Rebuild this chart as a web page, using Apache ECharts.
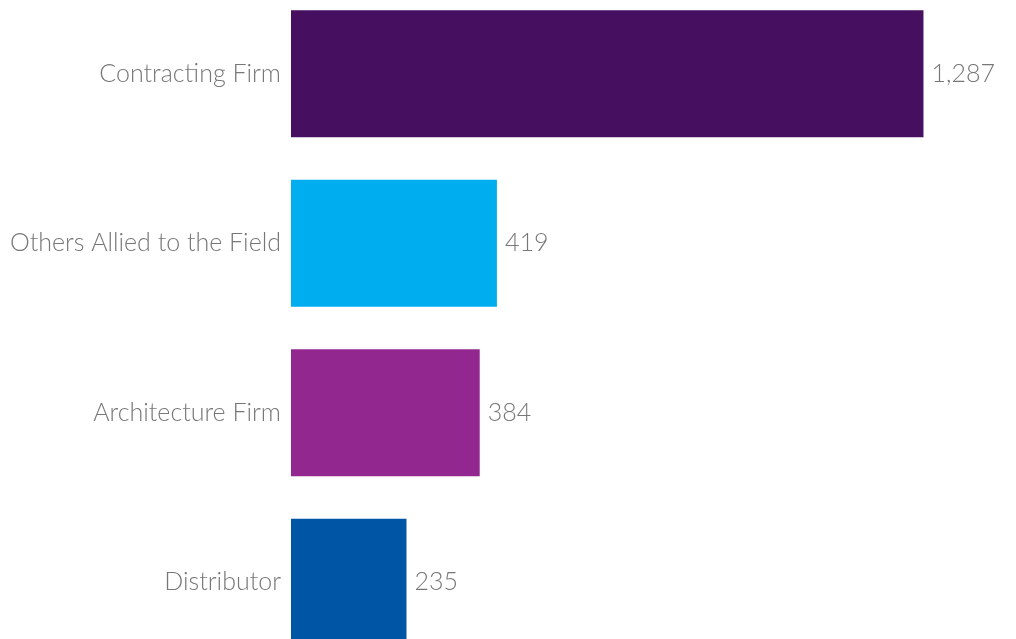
<!DOCTYPE html>
<html>
<head>
<meta charset="utf-8">
<script src="https://cdn.jsdelivr.net/npm/echarts@6/dist/echarts.min.js"></script>
<style>
  html, body { margin: 0; padding: 0; background: #ffffff; overflow: hidden; }
  /* the chart runs past the window at top and bottom, like the cropped original */
  #chart { width: 1016px; height: 678px; margin-top: -11px; }
</style>
</head>
<body>
<div id="chart"></div>
<script>
const categories = ["Contracting Firm", "Others Allied to the Field", "Architecture Firm", "Distributor"];
const counts = [1287, 419, 384, 235];
const barColors = ["#460f5f", "#00aeef", "#92278f", "#0055a4"];

const myChart = echarts.init(document.getElementById("chart"));
const option = {
  animation: false,
  grid: {
    left: 291,
    right: 37,
    top: 0,
    bottom: 0
  },
  xAxis: {
    type: "value",
    min: 0,
    max: 1400,
    show: false
  },
  yAxis: {
    type: "category",
    inverse: true,
    data: categories,
    axisLine: { show: false },
    axisTick: { show: false },
    axisLabel: {
      margin: 10,
      color: "#777777",
      fontFamily: "Lato",
      fontWeight: 300,
      fontSize: 25
    }
  },
  series: [
    {
      type: "bar",
      barCategoryGap: "25%",
      data: counts.map((v, i) => ({ value: v, itemStyle: { color: barColors[i] } })),
      label: {
        show: true,
        position: "right",
        distance: 8,
        color: "#777777",
        fontFamily: "Lato",
        fontWeight: 300,
        fontSize: 25,
        formatter: p => p.value.toLocaleString("en-US")
      }
    }
  ]
};
myChart.setOption(option);
</script>
</body>
</html>
